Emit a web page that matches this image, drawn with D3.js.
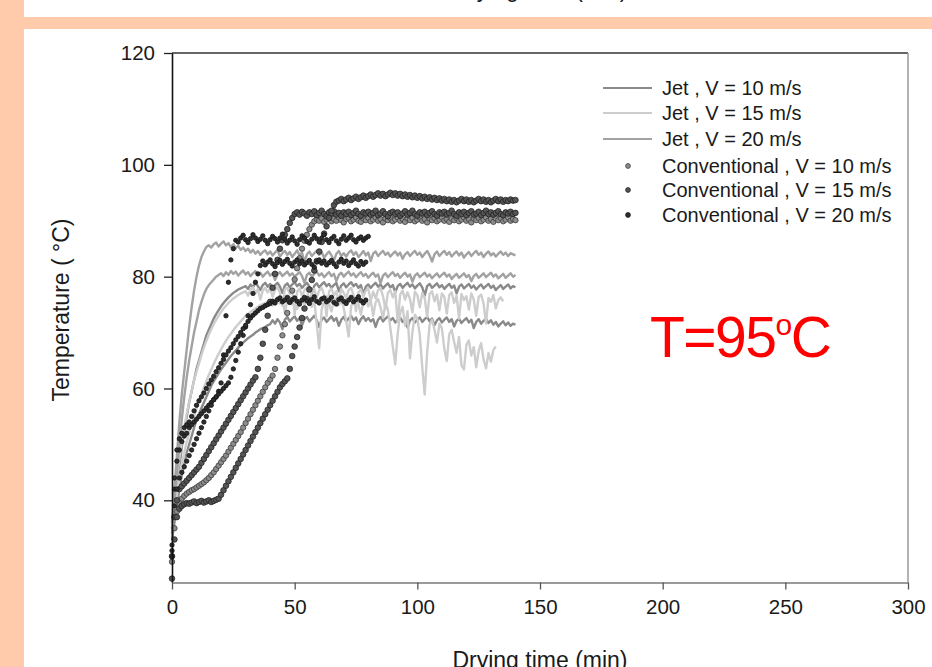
<!DOCTYPE html>
<html>
<head>
<meta charset="utf-8">
<script src="https://cdn.jsdelivr.net/npm/d3@7"></script>
<style>
  body { margin: 0; background: #fff; }
  svg { display: block; }
  text { font-family: "Liberation Sans", Arial, Helvetica, sans-serif; }
</style>
</head>
<body>
<svg id="chart" width="932" height="667"></svg>
<script>
// Product temperature (°C), one reading per minute starting at t = 0 min.
const stepMin = 1;

// Jet dryer, V = 10 m/s
const jet10a = [
  33, 36, 39, 42, 44.5, 46.5, 48.5, 50, 51.5, 53,
  54.5, 55.5, 56.5, 57.5, 58.5, 59.5, 60.5, 61.3, 62, 62.7,
  63.4, 64, 64.6, 65.2, 65.8, 66.3, 66.8, 67.3, 67.8, 68.2,
  68.6, 69, 69.3, 69.6, 70, 70.3, 70.6, 70.8, 71, 71.3,
  71.5, 72.2, 71.6, 72.4, 71.8, 70.6, 72.3, 72.8, 72.0, 72.5,
  72.9, 72.1, 72.6, 71.3, 72.4, 72.8, 72.0, 72.5, 73.0, 72.2,
  71.0, 72.3, 72.7, 71.9, 72.4, 72.9, 72.1, 72.6, 71.2, 72.3,
  72.8, 72.0, 72.5, 73.0, 72.2, 72.7, 71.5, 72.4, 72.9, 72.1,
  72.6, 72.0, 72.4, 71.0, 72.3, 72.8, 72.0, 72.5, 72.9, 72.2,
  72.6, 71.8, 72.3, 72.7, 71.9, 72.4, 70.9, 72.2, 72.6, 71.8,
  72.3, 72.7, 71.9, 72.4, 72.8, 72.0, 72.5, 71.3, 72.2, 72.6,
  71.8, 72.3, 72.7, 71.9, 72.4, 71.1, 72.1, 72.5, 71.7, 72.2,
  72.6, 71.8, 72.3, 70.8, 71.9, 72.4, 71.6, 72.1, 72.5, 71.7,
  72.2, 71.4, 71.9, 71.1, 71.6, 72.0, 71.3, 71.8, 71.2, 71.6,
  71.4
];
const jet10b = [
  34, 38, 42, 46, 49.5, 52.5, 55, 57.5, 59.5, 61.5,
  63.5, 65, 66.5, 68, 69.5, 70.5, 71.5, 72.5, 73.3, 74,
  74.7, 75.3, 75.8, 76.3, 76.7, 77.1, 77.4, 77.7, 77.9, 78.1,
  78.3, 77.8, 78.6, 78.1, 78.9, 78.3, 77.6, 78.5, 78.9, 78.2,
  78.7, 78.0, 78.5, 78.9, 78.2, 77.1, 78.4, 78.8, 78.1, 78.6,
  79.0, 78.3, 78.7, 78.0, 78.5, 78.9, 78.2, 76.9, 78.4, 78.8,
  78.1, 78.6, 79.0, 78.3, 78.7, 78.0, 78.5, 78.9, 77.4, 78.4,
  78.8, 78.1, 78.6, 79.0, 78.3, 78.7, 78.0, 78.5, 76.8, 78.2,
  78.6, 78.0, 78.5, 78.9, 78.2, 78.6, 77.9, 78.4, 78.8, 78.1,
  78.5, 77.2, 78.3, 78.7, 78.0, 78.5, 78.9, 78.2, 78.6, 77.9,
  78.4, 78.8, 78.1, 76.6, 78.3, 78.7, 78.0, 78.4, 78.8, 78.1,
  78.5, 77.8, 78.3, 78.7, 78.0, 78.4, 77.0, 78.2, 78.6, 77.9,
  78.3, 78.7, 78.0, 78.4, 77.7, 78.2, 78.6, 77.9, 78.3, 78.7,
  78.0, 78.4, 77.6, 78.1, 78.5, 77.8, 78.2, 78.6, 77.9, 78.3,
  78.1
];

// Jet dryer, V = 15 m/s
const jet15a = [
  35, 38, 41, 44, 46.5, 48.5, 50.5, 52, 53.5, 55,
  56.5, 57.8, 59, 60.2, 61.3, 62.4, 63.4, 64.4, 65.3, 66.2,
  67, 67.8, 68.5, 69.2, 69.8, 70.4, 71, 71.5, 72, 72.5,
  73, 73.3, 73.7, 74, 74.3, 74.6, 74.9, 75.1, 75.3, 75.5,
  75.6, 74.8, 75.9, 76.3, 75.2, 76.0, 73.5, 75.8, 76.4, 75.1,
  76.1, 74.2, 75.7, 76.3, 75.0, 75.9, 76.4, 74.6, 75.8, 71.5,
  67.2, 74.1, 75.9, 76.5, 75.2, 73.8, 75.7, 76.2, 74.9, 75.8,
  74.4, 72.0, 69.3, 74.6, 75.9, 76.3, 75.1, 73.2, 75.6, 76.1,
  74.7, 75.8, 73.0, 75.4, 76.0, 74.5, 72.6, 75.2, 74.1, 70.8,
  67.5, 64.3, 69.8, 73.5, 74.6, 71.2, 73.8, 65.4, 70.1, 73.2,
  72.5, 69.6, 63.8, 58.9, 66.5, 71.4, 72.3, 70.5, 68.2, 71.6,
  70.8, 67.1, 64.9, 69.7, 70.5, 68.3, 66.4, 69.2, 64.1, 63.4,
  67.8, 68.6, 65.9, 67.4, 63.8, 66.7, 68.1, 65.2, 63.6, 66.3,
  64.8, 66.9, 67.5
];
const jet15b = [
  36, 40, 44, 47.5, 50.5, 53, 55.5, 57.5, 59.5, 61.5,
  63, 64.5, 66, 67.3, 68.5, 69.6, 70.6, 71.5, 72.3, 73,
  73.7, 74.3, 74.8, 75.3, 75.7, 76.1, 76.4, 76.7, 77, 77.2,
  77.4, 76.6, 77.7, 78.1, 77.0, 77.8, 75.9, 77.5, 78.0, 77.2,
  77.9, 76.4, 77.6, 78.2, 77.1, 74.8, 77.7, 78.0, 76.9, 77.5,
  73.2, 77.3, 77.9, 76.5, 77.6, 78.1, 75.1, 77.4, 77.8, 76.3,
  77.5, 78.0, 76.8, 72.9, 77.3, 77.9, 76.6, 77.4, 75.5, 77.8,
  77.1, 76.2, 77.6, 78.0, 76.7, 73.8, 77.2, 77.7, 76.4, 77.5,
  77.9, 75.7, 77.3, 76.1, 77.6, 78.0, 76.5, 74.2, 77.1, 77.6,
  76.3, 77.4, 71.9, 76.8, 77.5, 75.9, 77.2, 76.0, 73.6, 77.3,
  76.7, 74.5, 77.1, 76.2, 72.8, 76.9, 77.4, 75.6, 76.8, 74.0,
  77.0, 76.4, 73.4, 76.7, 77.2, 75.3, 76.6, 72.5, 76.9, 75.8,
  76.5, 74.1, 77.0, 75.9, 73.0, 76.4, 76.8, 75.2, 71.6, 76.2,
  75.5, 76.7, 74.3, 75.8, 76.3, 75.6
];

// Jet dryer, V = 20 m/s
const jet20a = [
  36, 42, 48, 54, 59, 63, 67, 71, 74.5, 77.5,
  80, 82, 83.5, 84.5, 85.3, 85.6, 85.2, 85.8, 86.1, 85.4,
  85.9, 86.3, 85.6, 86.0, 85.3, 85.8, 85.1, 85.5, 84.8, 85.2,
  84.6, 85.0, 84.3, 84.8, 84.1, 84.6, 83.9, 84.4, 84.7, 84.0,
  84.5, 83.8, 84.3, 84.8, 83.6, 84.2, 84.6, 83.9, 84.4, 83.5,
  84.1, 84.7, 83.8, 84.3, 82.6, 84.0, 84.5, 83.7, 84.2, 84.6,
  83.9, 84.4, 83.4, 84.0, 84.5, 83.8, 82.9, 84.1, 84.6, 83.7,
  84.2, 83.6, 84.3, 84.7, 83.9, 84.4, 83.5, 84.0, 84.6, 83.8,
  84.3, 82.8, 84.1, 84.5, 83.7, 84.2, 84.6, 83.9, 84.3, 83.6,
  84.1, 84.5, 83.8, 84.3, 83.2, 84.0, 84.4, 83.7, 84.2, 84.6,
  83.9, 84.3, 83.5, 84.1, 84.6, 83.8, 82.7, 84.0, 84.5, 83.7,
  84.2, 84.6, 83.9, 84.4, 83.6, 84.1, 84.5, 83.8, 84.3, 83.4,
  84.0, 84.4, 83.7, 84.2, 84.6, 83.9, 84.3, 83.5, 84.1, 84.5,
  83.8, 84.2, 83.6, 84.1, 84.5, 83.9, 84.3, 83.7, 84.2, 84.0,
  83.8
];
const jet20b = [
  35, 40, 45, 50, 54.5, 58.5, 62, 65, 67.5, 70,
  72, 74, 75.5, 76.8, 77.8, 78.5, 79, 79.5, 80, 80.3,
  80.6, 80.1, 80.8, 80.3, 81.0, 80.5, 80.9, 80.2, 80.7, 81.1,
  80.4, 80.8, 80.1, 80.6, 81.0, 80.3, 80.7, 80.0, 80.5, 80.9,
  80.2, 80.6, 79.4, 80.4, 80.8, 80.1, 80.5, 80.9, 80.2, 80.6,
  80.0, 80.4, 80.8, 80.1, 78.9, 80.3, 80.7, 80.0, 80.5, 80.9,
  80.2, 80.6, 79.9, 80.4, 80.8, 80.1, 80.5, 79.2, 80.3, 80.7,
  80.0, 80.5, 80.9, 80.2, 80.6, 79.9, 80.4, 80.8, 80.1, 80.5,
  79.8, 80.3, 80.7, 80.0, 80.4, 78.8, 80.2, 80.6, 79.9, 80.4,
  80.8, 80.1, 80.5, 79.8, 80.3, 80.7, 80.0, 80.4, 79.1, 80.2,
  80.6, 79.9, 80.3, 80.7, 80.0, 80.4, 79.7, 80.2, 80.6, 79.9,
  80.3, 80.7, 80.0, 80.4, 79.6, 80.1, 80.5, 79.8, 80.2, 80.6,
  79.9, 80.3, 79.2, 80.1, 80.5, 79.8, 80.2, 80.6, 79.9, 80.3,
  80.7, 80.0, 80.4, 79.7, 80.1, 80.5, 79.8, 80.2, 80.6, 80.0,
  80.3
];

// Conventional dryer, V = 10 m/s
const conv10a = [
  29, 35, 38, 39.5, 40.3, 40.8, 41.2, 41.5, 41.8, 42,
  42.3, 42.6, 42.9, 43.2, 43.6, 44, 44.5, 45, 45.6, 46.2,
  46.8, 47.4, 48, 48.7, 49.4, 50.1, 50.8, 51.5, 52.2, 53,
  53.8, 54.6, 55.4, 56.2, 57, 57.8, 58.6, 59.4, 60.2, 61,
  61.6, 62.3, 63.5, 65.5, 67.5, 69.5, 71.5, 73.5, 75.5, 77.5,
  79.5, 81.5, 83.3, 85, 86.4, 87.5, 88.5, 89.3, 89.9, 90.3,
  90.0, 90.4, 89.8, 90.2, 90.5, 89.9, 90.3, 90.0, 90.6, 90.1,
  89.7, 90.3, 90.5, 89.9, 90.2, 90.6, 90.0, 89.8, 90.4, 90.1,
  90.5, 89.9, 90.2, 90.6, 90.0, 90.3, 89.7, 90.4, 90.1, 90.5,
  89.9, 90.2, 90.6, 90.0, 90.3, 89.8, 90.4, 90.1, 90.5, 89.9,
  90.2, 90.6, 90.0, 90.3, 89.7, 90.4, 90.1, 90.5, 89.9, 90.2,
  90.6, 90.0, 90.3, 89.8, 90.4, 90.1, 90.5, 89.9, 90.2, 90.6,
  90.0, 90.3, 89.7, 90.4, 90.1, 90.5, 89.9, 90.2, 90.6, 90.0,
  90.3, 89.8, 90.4, 90.1, 90.5, 89.9, 90.2, 90.6, 90.0, 90.3,
  90.1
];

// Conventional dryer, V = 15 m/s
const conv15a = [
  30, 37, 40, 42, 42.5, 43, 43.5, 44, 44.5, 45,
  45.5, 46, 46.7, 47.4, 48.1, 48.8, 49.5, 50.2, 50.9, 51.6,
  52.3, 53, 53.7, 54.4, 55.1, 55.8, 56.5, 57.2, 57.9, 58.6,
  59.3, 60, 60.7, 61.4, 62, 63.5, 65.5, 68, 70.5, 73,
  75.5, 78, 80.5, 83, 85, 86.5, 87.5, 88.5, 89.6, 90.5,
  91.2, 91.5, 91.1, 91.6, 91.3, 90.9, 91.5, 91.2, 91.7, 91.0,
  91.4, 91.8, 91.2, 90.8, 91.5, 91.3, 91.7, 91.1, 91.4, 90.9,
  91.5, 91.2, 91.6, 91.0, 91.4, 91.8, 91.2, 90.9, 91.5, 91.3,
  91.6, 91.1, 91.4, 91.8, 91.0, 91.3, 91.7, 91.2, 90.8, 91.4,
  91.6, 91.2, 91.5, 90.9, 91.3, 91.7, 91.1, 91.4, 91.8, 91.2,
  90.9, 91.5, 91.3, 91.6, 91.0, 91.4, 91.7, 91.2, 90.9, 91.5,
  91.3, 91.6, 91.1, 91.4, 91.8, 91.2, 90.9, 91.5, 91.2, 91.6,
  91.0, 91.4, 91.7, 91.1, 91.3, 91.6, 91.0, 91.4, 91.8, 91.2,
  91.5, 91.1, 91.4, 91.7, 91.2, 91.0, 91.5, 91.3, 91.6, 91.2,
  91.4
];
const conv15b = [
  26, 33, 37, 38.5, 39, 39.3, 39.5, 39.4, 39.6, 39.8,
  39.5, 39.7, 39.9, 39.6, 39.8, 40, 39.7, 39.9, 40.1, 40.3,
  41, 41.8, 42.6, 43.4, 44.2, 45, 45.8, 46.6, 47.4, 48.2,
  49, 49.8, 50.6, 51.4, 52.2, 53, 53.8, 54.6, 55.4, 56.2,
  57, 57.8, 58.6, 59.4, 60.2, 60.8, 61.3, 61.8, 63.5, 65.8,
  67.5, 69.2, 70.9, 72.6, 74.3, 76, 77.7, 79.4, 81.1, 82.8,
  84.5, 86.2, 87.7, 89, 90.5, 91.8, 92.8, 93.4, 93.6, 93.9,
  93.5, 93.8, 94.1, 93.7, 94.0, 94.3, 93.9, 94.2, 94.5, 94.1,
  94.4, 94.7, 94.3, 94.6, 94.9, 94.5, 94.8, 94.4, 94.7, 95.0,
  94.6, 94.9, 94.5, 94.8, 94.4, 94.7, 94.3, 94.6, 94.2, 94.5,
  94.1, 94.4, 94.0, 94.3, 93.9, 94.2, 93.8, 94.1, 93.7, 94.0,
  93.6, 93.9, 93.5, 93.8, 93.4, 93.7, 93.3, 93.6, 93.9, 93.5,
  93.8, 93.4, 93.7, 93.3, 93.6, 93.9, 93.5, 93.8, 93.4, 93.7,
  93.3, 93.6, 93.9, 93.5, 93.8, 93.4, 93.7, 93.5, 93.8, 93.6,
  93.7
];

// Conventional dryer, V = 20 m/s
const conv20a = [
  30, 42, 47, 49, 50.5, 51.5, 52, 53, 53.5, 54,
  54.5, 55, 55.5, 56, 56.5, 57, 57.5, 58, 58.5, 59.5,
  61, 66, 73, 79, 83, 85, 86.5, 86.2, 86.9, 87.4,
  86.6, 86.1, 86.8, 87.5, 86.9, 86.3, 86.7, 87.3, 86.5, 85.9,
  86.6, 87.2, 86.8, 86.2, 86.9, 87.6, 86.7, 86.0, 86.5, 87.1,
  86.4, 85.8, 86.6, 87.3, 86.9, 86.3, 86.0, 86.7, 87.4, 86.8,
  86.2, 86.9, 87.5, 86.6, 86.1, 86.8, 87.2, 86.4, 85.9, 86.7,
  87.3, 86.5, 86.9, 87.4, 86.6, 86.2, 86.8, 87.1, 86.5, 86.9,
  87.2
];
const conv20b = [
  31, 39, 42, 44, 45, 46, 47, 48, 49, 50,
  51, 52, 53, 54, 55, 56, 57, 58, 58.5, 59,
  59.5, 60, 60.5, 61, 62, 63.5, 65, 66.5, 68, 69.5,
  71, 73, 75, 77, 79, 80.5, 82, 82.8, 82.1, 82.6,
  83.0, 82.3, 81.8, 82.5, 82.9, 82.2, 82.7, 83.1, 82.4, 81.9,
  82.6, 83.0, 82.3, 82.8, 82.1, 82.5, 82.9, 82.2, 81.7, 82.6,
  83.0, 82.4, 82.8, 82.1, 82.5, 82.9, 82.3, 81.8, 82.6, 83.1,
  82.4, 82.8, 82.0, 82.5, 83.0, 82.3, 81.9, 82.7, 82.2, 82.6
];
const conv20c = [
  32, 44, 49, 51, 52, 53, 53.5, 54, 55, 56,
  57, 57.8, 58.5, 59.2, 60, 60.8, 61.5, 62.2, 63, 63.7,
  64.5, 65.2, 66, 66.7, 67.3, 68, 68.7, 69.3, 70, 70.7,
  71.3, 72, 72.6, 73.1, 73.5, 73.9, 74.3, 74.5, 74.8, 75.0,
  75.2, 75.6, 75.3, 75.9, 76.2, 75.5, 75.8, 76.3, 75.4, 75.9,
  76.2, 75.6, 75.1, 75.8, 76.3, 75.7, 75.2, 75.9, 76.4, 75.6,
  75.3, 76.0, 76.2, 75.5, 75.8, 76.3, 75.4, 75.1, 75.9, 76.2,
  75.6, 75.2, 75.8, 76.3, 75.5, 75.9, 76.4, 75.7, 75.3, 75.8
];

const xTicks = [0, 50, 100, 150, 200, 250, 300];
const yTicks = [40, 60, 80, 100, 120];
const legendLabels = [
  "Jet , V = 10 m/s",
  "Jet , V = 15 m/s",
  "Jet , V = 20 m/s",
  "Conventional , V = 10 m/s",
  "Conventional , V = 15 m/s",
  "Conventional , V = 20 m/s"
];

const series = [
  { label: legendLabels[0], kind: "line", stroke: "#8a8a8a", curves: [jet10a, jet10b] },
  { label: legendLabels[1], kind: "line", stroke: "#cdcdcd", curves: [jet15a, jet15b] },
  { label: legendLabels[2], kind: "line", stroke: "#a2a2a2", curves: [jet20a, jet20b] },
  { label: legendLabels[3], kind: "dot", fill: "#8c8c8c", stroke: "#3c3c3c", r: 2.7, curves: [conv10a] },
  { label: legendLabels[4], kind: "dot", fill: "#555", stroke: "#222", r: 2.8, curves: [conv15a, conv15b] },
  { label: legendLabels[5], kind: "dot", fill: "#2e2e2e", stroke: "#111", r: 2.2, curves: [conv20a, conv20b, conv20c] }
];

const svg = d3.select("#chart");
const W = 932, H = 667;
const plot = { left: 172, right: 908, top: 53, bottom: 582.5 };
const ink = "#1a1a1a";

const x = d3.scaleLinear().domain([0, 300]).range([plot.left, plot.right]);
const y = d3.scaleLinear().domain([25.3, 120]).range([plot.bottom, plot.top]);

// slide background bands
const bandColor = "#ffcbaa";
svg.append("rect").attr("x", 0).attr("y", 0).attr("width", 24).attr("height", H).attr("fill", bandColor);
svg.append("rect").attr("x", 24).attr("y", 17).attr("width", W - 24).attr("height", 12).attr("fill", bandColor);

// axis title of the panel above, cut by the slide edge
svg.append("text")
  .attr("x", 540).attr("y", -3)
  .attr("text-anchor", "middle")
  .attr("font-size", 23).attr("fill", ink)
  .text("Drying time (min)");

// data: jet lines first, conventional dots on top
const line = d3.line()
  .x((d, i) => x(i * stepMin))
  .y(d => y(d));

const gData = svg.append("g");
series.filter(s => s.kind === "line").forEach(s => {
  s.curves.forEach(c => {
    gData.append("path")
      .attr("d", line(c))
      .attr("fill", "none")
      .attr("stroke", s.stroke)
      .attr("stroke-width", 2.4)
      .attr("stroke-linejoin", "round");
  });
});
series.filter(s => s.kind === "dot").forEach(s => {
  s.curves.forEach(c => {
    gData.append("g").selectAll("circle")
      .data(c)
      .join("circle")
      .attr("cx", (d, i) => x(i * stepMin))
      .attr("cy", d => y(d))
      .attr("r", s.r)
      .attr("fill", s.fill)
      .attr("stroke", s.stroke)
      .attr("stroke-width", 0.8);
  });
});

// frame: top and right edges
svg.append("line")
  .attr("x1", plot.left).attr("x2", plot.right)
  .attr("y1", plot.top).attr("y2", plot.top)
  .attr("stroke", "#333").attr("stroke-width", 1.5);
svg.append("line")
  .attr("x1", plot.right).attr("x2", plot.right)
  .attr("y1", plot.top).attr("y2", plot.bottom)
  .attr("stroke", "#9a9a9a").attr("stroke-width", 1.5);

// y axis
const yAxis = svg.append("g")
  .attr("transform", `translate(${plot.left},0)`)
  .call(d3.axisLeft(y).tickValues(yTicks).tickSize(8).tickPadding(9).tickSizeOuter(0));
yAxis.select(".domain").attr("stroke", "#111").attr("stroke-width", 1.6);
yAxis.selectAll(".tick line").attr("stroke", "#222").attr("stroke-width", 1.3);
yAxis.selectAll(".tick text")
  .attr("font-size", 20.5).attr("fill", ink)
  .attr("font-family", "'Liberation Sans', Arial, sans-serif");

// x axis
const xAxis = svg.append("g")
  .attr("transform", `translate(0,${plot.bottom})`)
  .call(d3.axisBottom(x).tickValues(xTicks).tickSize(7).tickPadding(10).tickSizeOuter(0));
xAxis.select(".domain").attr("stroke", "#9a9a9a").attr("stroke-width", 2);
xAxis.selectAll(".tick line").attr("stroke", "#555").attr("stroke-width", 1.3);
xAxis.selectAll(".tick text")
  .attr("font-size", 20.5).attr("fill", ink)
  .attr("font-family", "'Liberation Sans', Arial, sans-serif");

// axis titles
svg.append("text")
  .attr("transform", "translate(69,310) rotate(-90)")
  .attr("text-anchor", "middle")
  .attr("font-size", 23).attr("fill", ink)
  .text("Temperature ( \u00B0C)");
svg.append("text")
  .attr("x", 540).attr("y", 668)
  .attr("text-anchor", "middle")
  .attr("font-size", 23).attr("fill", ink)
  .text("Drying time (min)");

// legend
const legendRows = [88, 113, 139, 166, 190, 215];
const gLegend = svg.append("g");
series.forEach((s, i) => {
  const cy = legendRows[i];
  if (s.kind === "line") {
    gLegend.append("line")
      .attr("x1", 603).attr("x2", 652)
      .attr("y1", cy).attr("y2", cy)
      .attr("stroke", s.stroke).attr("stroke-width", 2);
  } else {
    gLegend.append("circle")
      .attr("cx", 628).attr("cy", cy)
      .attr("r", 2.4)
      .attr("fill", s.fill).attr("stroke", s.stroke).attr("stroke-width", 0.8);
  }
  gLegend.append("text")
    .attr("x", 662).attr("y", cy + 7)
    .attr("font-size", 20).attr("fill", ink)
    .text(s.label);
});

// drying air temperature
const note = svg.append("text")
  .attr("x", 650).attr("y", 357)
  .attr("font-size", 57).attr("fill", "#ff0000")
  .attr("letter-spacing", -1.5);
note.append("tspan").text("T=95");
note.append("tspan").attr("font-size", 30).attr("dy", -22).text("o");
note.append("tspan").attr("dy", 22).text("C");
</script>
</body>
</html>
